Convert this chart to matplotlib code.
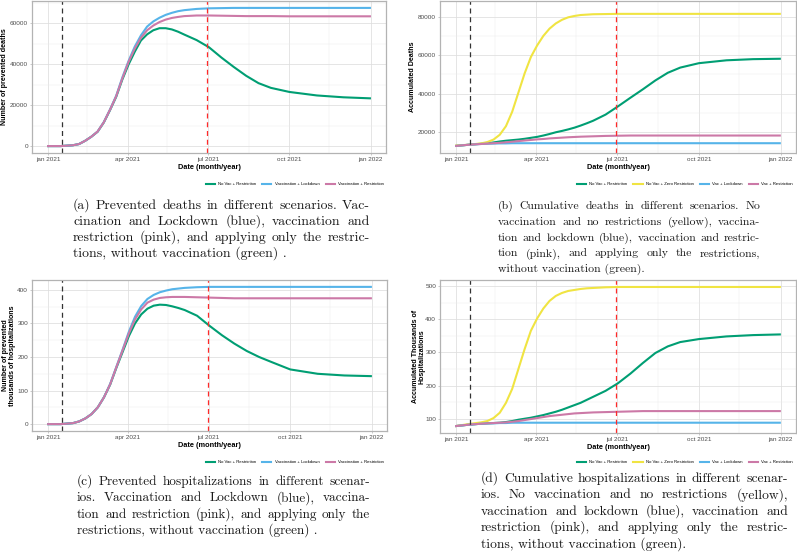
import pandas as pd
import matplotlib
matplotlib.use("Agg")
from matplotlib import pyplot as plt
import matplotlib.dates as mdates
from matplotlib.ticker import MultipleLocator, FixedLocator
from matplotlib.lines import Line2D

# ---- data ----
dates = ['2021-01-01', '2021-01-15', '2021-01-29', '2021-02-05', '2021-02-12', '2021-02-19',
         '2021-02-26', '2021-03-05', '2021-03-12', '2021-03-19', '2021-03-26', '2021-04-02',
         '2021-04-09', '2021-04-16', '2021-04-23', '2021-04-30', '2021-05-07', '2021-05-14',
         '2021-05-21', '2021-05-28', '2021-06-04', '2021-06-18', '2021-07-02', '2021-07-16',
         '2021-07-30', '2021-08-13', '2021-08-27', '2021-09-10', '2021-10-01', '2021-11-01',
         '2021-12-01', '2021-12-31']

start_line = '2021-01-17'
end_line = '2021-06-30'

# (a) prevented deaths
a_novac = [0, 0, 400, 1000, 2600, 4600, 7000, 11500, 17500, 24000, 32500, 39800, 46000, 51500,
           54500, 56500, 57500, 57500, 56900, 55800, 54400, 51700, 48200, 43200, 38600, 34300,
           30700, 28400, 26400, 24700, 23800, 23300]
a_lock = [0, 0, 400, 1000, 2600, 4600, 7100, 11700, 17800, 24500, 33500, 41500, 48500, 54000,
          58300, 60800, 62600, 64000, 65000, 65800, 66300, 66900, 67200, 67300, 67400, 67400,
          67400, 67400, 67400, 67400, 67400, 67400]
a_restr = [0, 0, 400, 1000, 2600, 4600, 7100, 11600, 17700, 24300, 33000, 41000, 47500, 52800,
           56500, 58800, 60500, 61700, 62500, 63000, 63400, 63700, 63700, 63600, 63500, 63400,
           63400, 63400, 63300, 63300, 63300, 63300]

# (b) cumulative deaths
b_novac = [12700, 13300, 13800, 14100, 14500, 15000, 15400, 15700, 16000, 16400, 16900, 17400,
           18100, 18900, 19800, 20500, 21300, 22200, 23300, 24500, 25800, 29000, 33300, 37800,
           42200, 46800, 50800, 53500, 55800, 57300, 57900, 58100]
b_zero = [12900, 13300, 14000, 14700, 16000, 18500, 23000, 30500, 40500, 50500, 59000, 65000,
          70000, 73800, 76500, 78400, 79700, 80400, 80900, 81100, 81300, 81400, 81500, 81500,
          81500, 81500, 81500, 81500, 81500, 81500, 81500, 81500]
b_lock = [12700, 13300, 13700, 13800, 13900, 14000, 14000, 14100, 14100, 14100, 14100, 14100,
          14100, 14100, 14100, 14100, 14100, 14100, 14100, 14100, 14100, 14100, 14100, 14100,
          14100, 14100, 14100, 14100, 14100, 14100, 14100, 14100]
b_restr = [12700, 13300, 13700, 13900, 14100, 14300, 14600, 14900, 15200, 15500, 15800, 16100,
           16300, 16600, 16800, 17000, 17200, 17350, 17500, 17600, 17700, 17900, 18000, 18100,
           18100, 18100, 18100, 18100, 18100, 18100, 18100, 18100]

# (c) prevented hospitalizations (thousands)
c_novac = [0, 0, 3, 8, 17, 30, 50, 80, 118, 168, 215, 262, 300, 327, 344, 353, 356, 355, 351,
           346, 340, 323, 293, 265, 240, 218, 200, 185, 163, 150, 145, 143]
c_lock = [0, 0, 3, 8, 17, 30, 50, 80, 120, 171, 222, 275, 320, 352, 373, 385, 393, 398, 402,
          404, 406, 408, 409, 409, 409, 409, 409, 409, 409, 409, 409, 409]
c_restr = [0, 0, 3, 8, 17, 30, 50, 80, 119, 170, 220, 270, 312, 342, 362, 371, 376, 378, 379,
           379, 379, 378, 377, 376, 375, 375, 375, 375, 375, 375, 375, 375]

# (d) cumulative hospitalizations (thousands)
d_novac = [78, 82, 85, 86, 87, 88, 90, 93, 97, 100, 103, 107, 111, 116, 121, 127, 134, 141, 148,
           157, 166, 184, 207, 236, 268, 298, 318, 331, 340, 348, 352, 354]
d_zero = [78, 84, 89, 93, 102, 118, 148, 190, 250, 310, 365, 402, 432, 455, 470, 479, 485, 488,
          491, 493, 494, 496, 497, 497, 497, 497, 497, 497, 497, 497, 497, 497]
d_lock = [78, 82, 85, 86, 86, 87, 87, 88, 88, 88, 88, 88, 88, 88, 88, 88, 88, 88, 88, 88, 88, 88,
          88, 88, 88, 88, 88, 88, 88, 88, 88, 88]
d_restr = [78, 82, 85, 86, 87, 88, 89, 91, 93, 96, 99, 102, 105, 108, 110, 112, 114, 116, 117,
           118, 119, 120, 121, 122, 123, 123, 123, 123, 123, 123, 123, 123]

xtick_dates = ['2021-01-01', '2021-04-01', '2021-07-01', '2021-10-01', '2022-01-01']
xtick_labels = ['jan 2021', 'apr 2021', 'jul 2021', 'oct 2021', 'jan 2022']
xminor_dates = ['2021-02-14', '2021-05-16', '2021-08-16', '2021-11-15']

captions = {
    'a': ["(a) Prevented deaths in different scenarios. Vac-",
          "cination and Lockdown (blue), vaccination and",
          "restriction (pink), and applying only the restric-",
          "tions, without vaccination (green) ."],
    'b': ["(b) Cumulative deaths in different scenarios. No",
          "vaccination and no restrictions (yellow), vaccina-",
          "tion and lockdown (blue), vaccination and restric-",
          "tion (pink), and applying only the restrictions,",
          "without vaccination (green)."],
    'c': ["(c) Prevented hospitalizations in different scenar-",
          "ios. Vaccination and Lockdown (blue), vaccina-",
          "tion and restriction (pink), and applying only the",
          "restrictions, without vaccination (green) ."],
    'd': ["(d) Cumulative hospitalizations in different scenar-",
          "ios. No vaccination and no restrictions (yellow),",
          "vaccination and lockdown (blue), vaccination and",
          "restriction (pink), and applying only the restric-",
          "tions, without vaccination (green)."],
}

GREEN, YELLOW, BLUE, PINK = '#009E73', '#F0E442', '#56B4E9', '#CC79A7'
W, H = 797, 553

plt.rcParams['font.family'] = ['Liberation Sans', 'DejaVu Sans']
x = pd.to_datetime(dates)


def rect(l, t, r, b):
    return [l / W, 1 - b / H, (r - l) / W, (b - t) / H]


def panel(fig, pos, series, ylabel, ylim, ystep, yticks, label_x, legend_right, legend_y):
    ax = fig.add_axes(rect(*pos))
    ax.xaxis.set_major_locator(FixedLocator(mdates.date2num(pd.to_datetime(xtick_dates))))
    ax.xaxis.set_minor_locator(FixedLocator(mdates.date2num(pd.to_datetime(xminor_dates))))
    ax.set_xticklabels(xtick_labels)
    ax.yaxis.set_major_locator(FixedLocator(yticks))
    ax.yaxis.set_minor_locator(MultipleLocator(ystep / 2))
    ax.set_yticklabels([str(v) for v in yticks])
    ax.grid(which='major', color='#DEDEDE', lw=0.55)
    ax.grid(which='minor', color='#EDEDED', lw=0.35)
    ax.set_axisbelow(True)
    for s in ax.spines.values():
        s.set_color('#B3B3B3')
        s.set_linewidth(0.9)
    ax.tick_params(which='major', labelsize=4.6, labelcolor='#4D4D4D', length=1.6,
                   width=0.5, color='#B3B3B3', pad=1.2)
    ax.tick_params(which='minor', length=0)

    handles = []
    for vals, col, name in series:
        ax.plot(x, vals, color=col, lw=1.5, solid_joinstyle='round')
        handles.append(Line2D([], [], color=col, lw=1.5, label=name))
    ax.axvline(pd.to_datetime(start_line), color='#333333', lw=0.9, ls=(0, (4, 3)))
    ax.axvline(pd.to_datetime(end_line), color='#FF2A2A', lw=0.9, ls=(0, (4, 3)))
    ax.margins(x=0.05)
    ax.set_ylim(*ylim)

    ax.set_xlabel('Date (month/year)', fontsize=5.3, fontweight='bold', labelpad=1.2)
    ax.set_ylabel(ylabel, fontsize=5.1, fontweight='bold', va='center', linespacing=1.0)
    ax.yaxis.set_label_coords(label_x, 0.5)

    fig.legend(handles=handles, loc='center right',
               bbox_to_anchor=(legend_right / W, 1 - legend_y / H),
               ncol=len(handles), frameon=False, fontsize=3.1, handlelength=2.1,
               handletextpad=0.8, columnspacing=1.4, borderaxespad=0, borderpad=0)
    return ax


def caption(fig, lines, x0, x1, y0, step):
    # pick the size so the widest full line just fits, then justify like LaTeX
    r = fig.canvas.get_renderer()
    kw = dict(family='cmr10', va='baseline', ha='left', color='#1A1A1A')
    probe = [fig.text(0, 0, ln, fontsize=10, **kw) for ln in lines[:-1]]
    widest = max(t.get_window_extent(r).width for t in probe)
    for t in probe:
        t.remove()
    size = 10 * 0.985 * (x1 - x0) / widest
    for i, line in enumerate(lines):
        y = 1 - (y0 + i * step) / H
        if i == len(lines) - 1:
            fig.text(x0 / W, y, line, fontsize=size, **kw)
            continue
        words = line.split(' ')
        texts = [fig.text(0, y, w, fontsize=size, **kw) for w in words]
        widths = [t.get_window_extent(r).width for t in texts]
        gap = (x1 - x0 - sum(widths)) / (len(words) - 1)
        xp = x0
        for t, wd in zip(texts, widths):
            t.set_x(xp / W)
            xp += wd + gap


fig = plt.figure(figsize=(W / 100, H / 100), dpi=100)

panel(fig, (32, 1, 386, 153),
      [(a_novac, GREEN, 'No Vac + Restriction'),
       (a_lock, BLUE, 'Vaccination + Lockdown'),
       (a_restr, PINK, 'Vaccination + Restriction')],
      'Number of prevented deaths', (-3370, 70770), 20000, [0, 20000, 40000, 60000],
      -0.079, 384, 184)

panel(fig, (440, 1, 796, 153),
      [(b_novac, GREEN, 'No Vac + Restriction'),
       (b_zero, YELLOW, 'No Vac + Zero Restriction'),
       (b_lock, BLUE, 'Vac + Lockdown'),
       (b_restr, PINK, 'Vac + Restriction')],
      'Accumulated Deaths', (9000, 88200), 20000, [20000, 40000, 60000, 80000],
      -0.076, 793, 184)

panel(fig, (32, 280, 387, 431),
      [(c_novac, GREEN, 'No Vac + Restriction'),
       (c_lock, BLUE, 'Vaccination + Lockdown'),
       (c_restr, PINK, 'Vaccination + Restriction')],
      'Number of prevented\nthousands of hospitalizations', (-20.5, 429.5), 100,
      [0, 100, 200, 300, 400], -0.065, 384, 462)

panel(fig, (440, 280, 796, 433),
      [(d_novac, GREEN, 'No Vac + Restriction'),
       (d_zero, YELLOW, 'No Vac + Zero Restriction'),
       (d_lock, BLUE, 'Vac + Lockdown'),
       (d_restr, PINK, 'Vac + Restriction')],
      'Accumulated Thousands of\nHospitalizations', (57, 518), 100,
      [100, 200, 300, 400, 500], -0.060, 793, 462)

caption(fig, captions['a'], 73, 370, 209, 16.0)
caption(fig, captions['b'], 498, 760, 209, 15.8)
caption(fig, captions['c'], 77, 370, 485, 16.3)
caption(fig, captions['d'], 481, 788, 482, 16.3)

fig.savefig('out.png', dpi=100)
